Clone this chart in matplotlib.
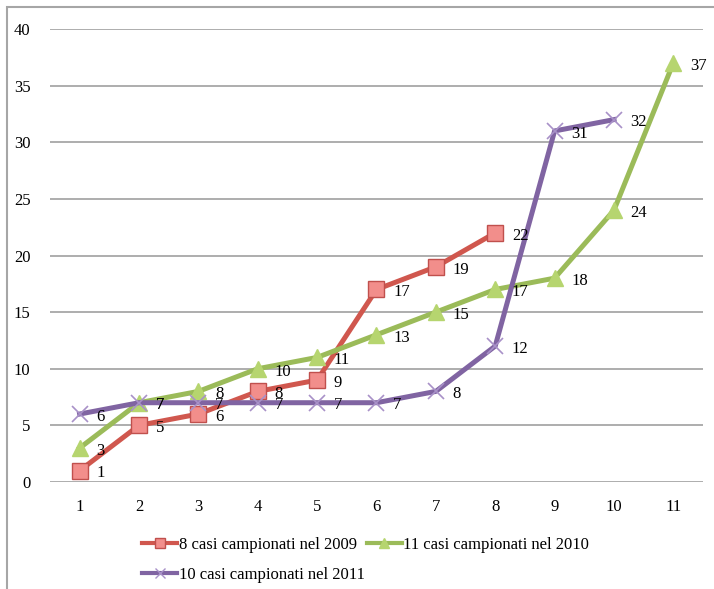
import matplotlib
matplotlib.use("Agg")
import matplotlib.pyplot as plt
from matplotlib.lines import Line2D
from matplotlib.patches import Rectangle

plt.rcParams['font.family'] = ['Liberation Serif', 'DejaVu Serif']

# === Dati ===
x_2009 = [1, 2, 3, 4, 5, 6, 7, 8]
casi_2009 = [1, 5, 6, 8, 9, 17, 19, 22]
x_2010 = [1, 2, 3, 4, 5, 6, 7, 8, 9, 10, 11]
casi_2010 = [3, 7, 8, 10, 11, 13, 15, 17, 18, 24, 37]
x_2011 = [1, 2, 3, 4, 5, 6, 7, 8, 9, 10]
casi_2011 = [6, 7, 7, 7, 7, 7, 8, 12, 31, 32]
etichette = ["8 casi campionati nel 2009",
             "11 casi campionati nel 2010",
             "10 casi campionati nel 2011"]

rosso, rosso_m, rosso_b = "#D0574E", "#F28E8B", "#C0504D"
verde, verde_m = "#9BBB59", "#B6D56F"
viola, viola_m = "#8064A2", "#A891C8"

fig = plt.figure(figsize=(7.14, 5.89), dpi=100)
ax = fig.add_axes([0.070, 0.1817, 0.9146, 0.769])

# cornice grigia attorno al grafico
fig.patches.append(Rectangle((7 / 714, -0.1), 1.2, 1 - 7 / 589 + 0.1,
                             transform=fig.transFigure, fill=False,
                             edgecolor="#A6A6A6", linewidth=1.5))

ax.plot(x_2009, casi_2009, color=rosso, lw=3.6, marker="s", ms=12,
        mfc=rosso_m, mec=rosso_b, mew=1, zorder=3)
ax.plot(x_2010, casi_2010, color=verde, lw=3.6, marker="^", ms=12,
        mfc=verde_m, mec=verde_m, zorder=4)
ax.plot(x_2011, casi_2011, color=viola, lw=3.6, marker="x", ms=12,
        mec=viola_m, mew=1.2, zorder=5)

for xs, ys in [(x_2009, casi_2009), (x_2010, casi_2010), (x_2011, casi_2011)]:
    for xv, yv in zip(xs, ys):
        ax.annotate(str(yv), (xv, yv), xytext=(12, -2), textcoords="offset points",
                    ha="left", va="center", fontsize=12, zorder=6)

ax.set_xlim(0.5, 11.5)
ax.set_ylim(0, 40)
ax.set_xticks(range(1, 12))
ax.set_yticks(range(0, 41, 5))
ax.tick_params(length=0, labelsize=12, pad=12)
ax.tick_params(axis="y", pad=14)
ax.grid(axis="y", color="#A0A0A0", lw=1.2)
ax.set_axisbelow(True)
for s in ax.spines.values():
    s.set_visible(False)

maniglie = [
    Line2D([], [], color=rosso, lw=3, marker="s", ms=7, mfc=rosso_m, mec=rosso_b),
    Line2D([], [], color=verde, lw=3, marker="^", ms=7, mfc=verde_m, mec=verde_m),
    Line2D([], [], color=viola, lw=3, marker="x", ms=7, mec=viola_m),
]
# ordine per righe: 2009, 2010 / 2011
fig.legend([maniglie[0], maniglie[2], maniglie[1]],
           [etichette[0], etichette[2], etichette[1]],
           ncol=2, loc="upper left", bbox_to_anchor=(0.19, 0.1),
           frameon=False, fontsize=12, handlelength=2.1, handletextpad=0.1,
           columnspacing=0.1, labelspacing=0.85, borderaxespad=0)

fig.savefig("out.png", dpi=100)
